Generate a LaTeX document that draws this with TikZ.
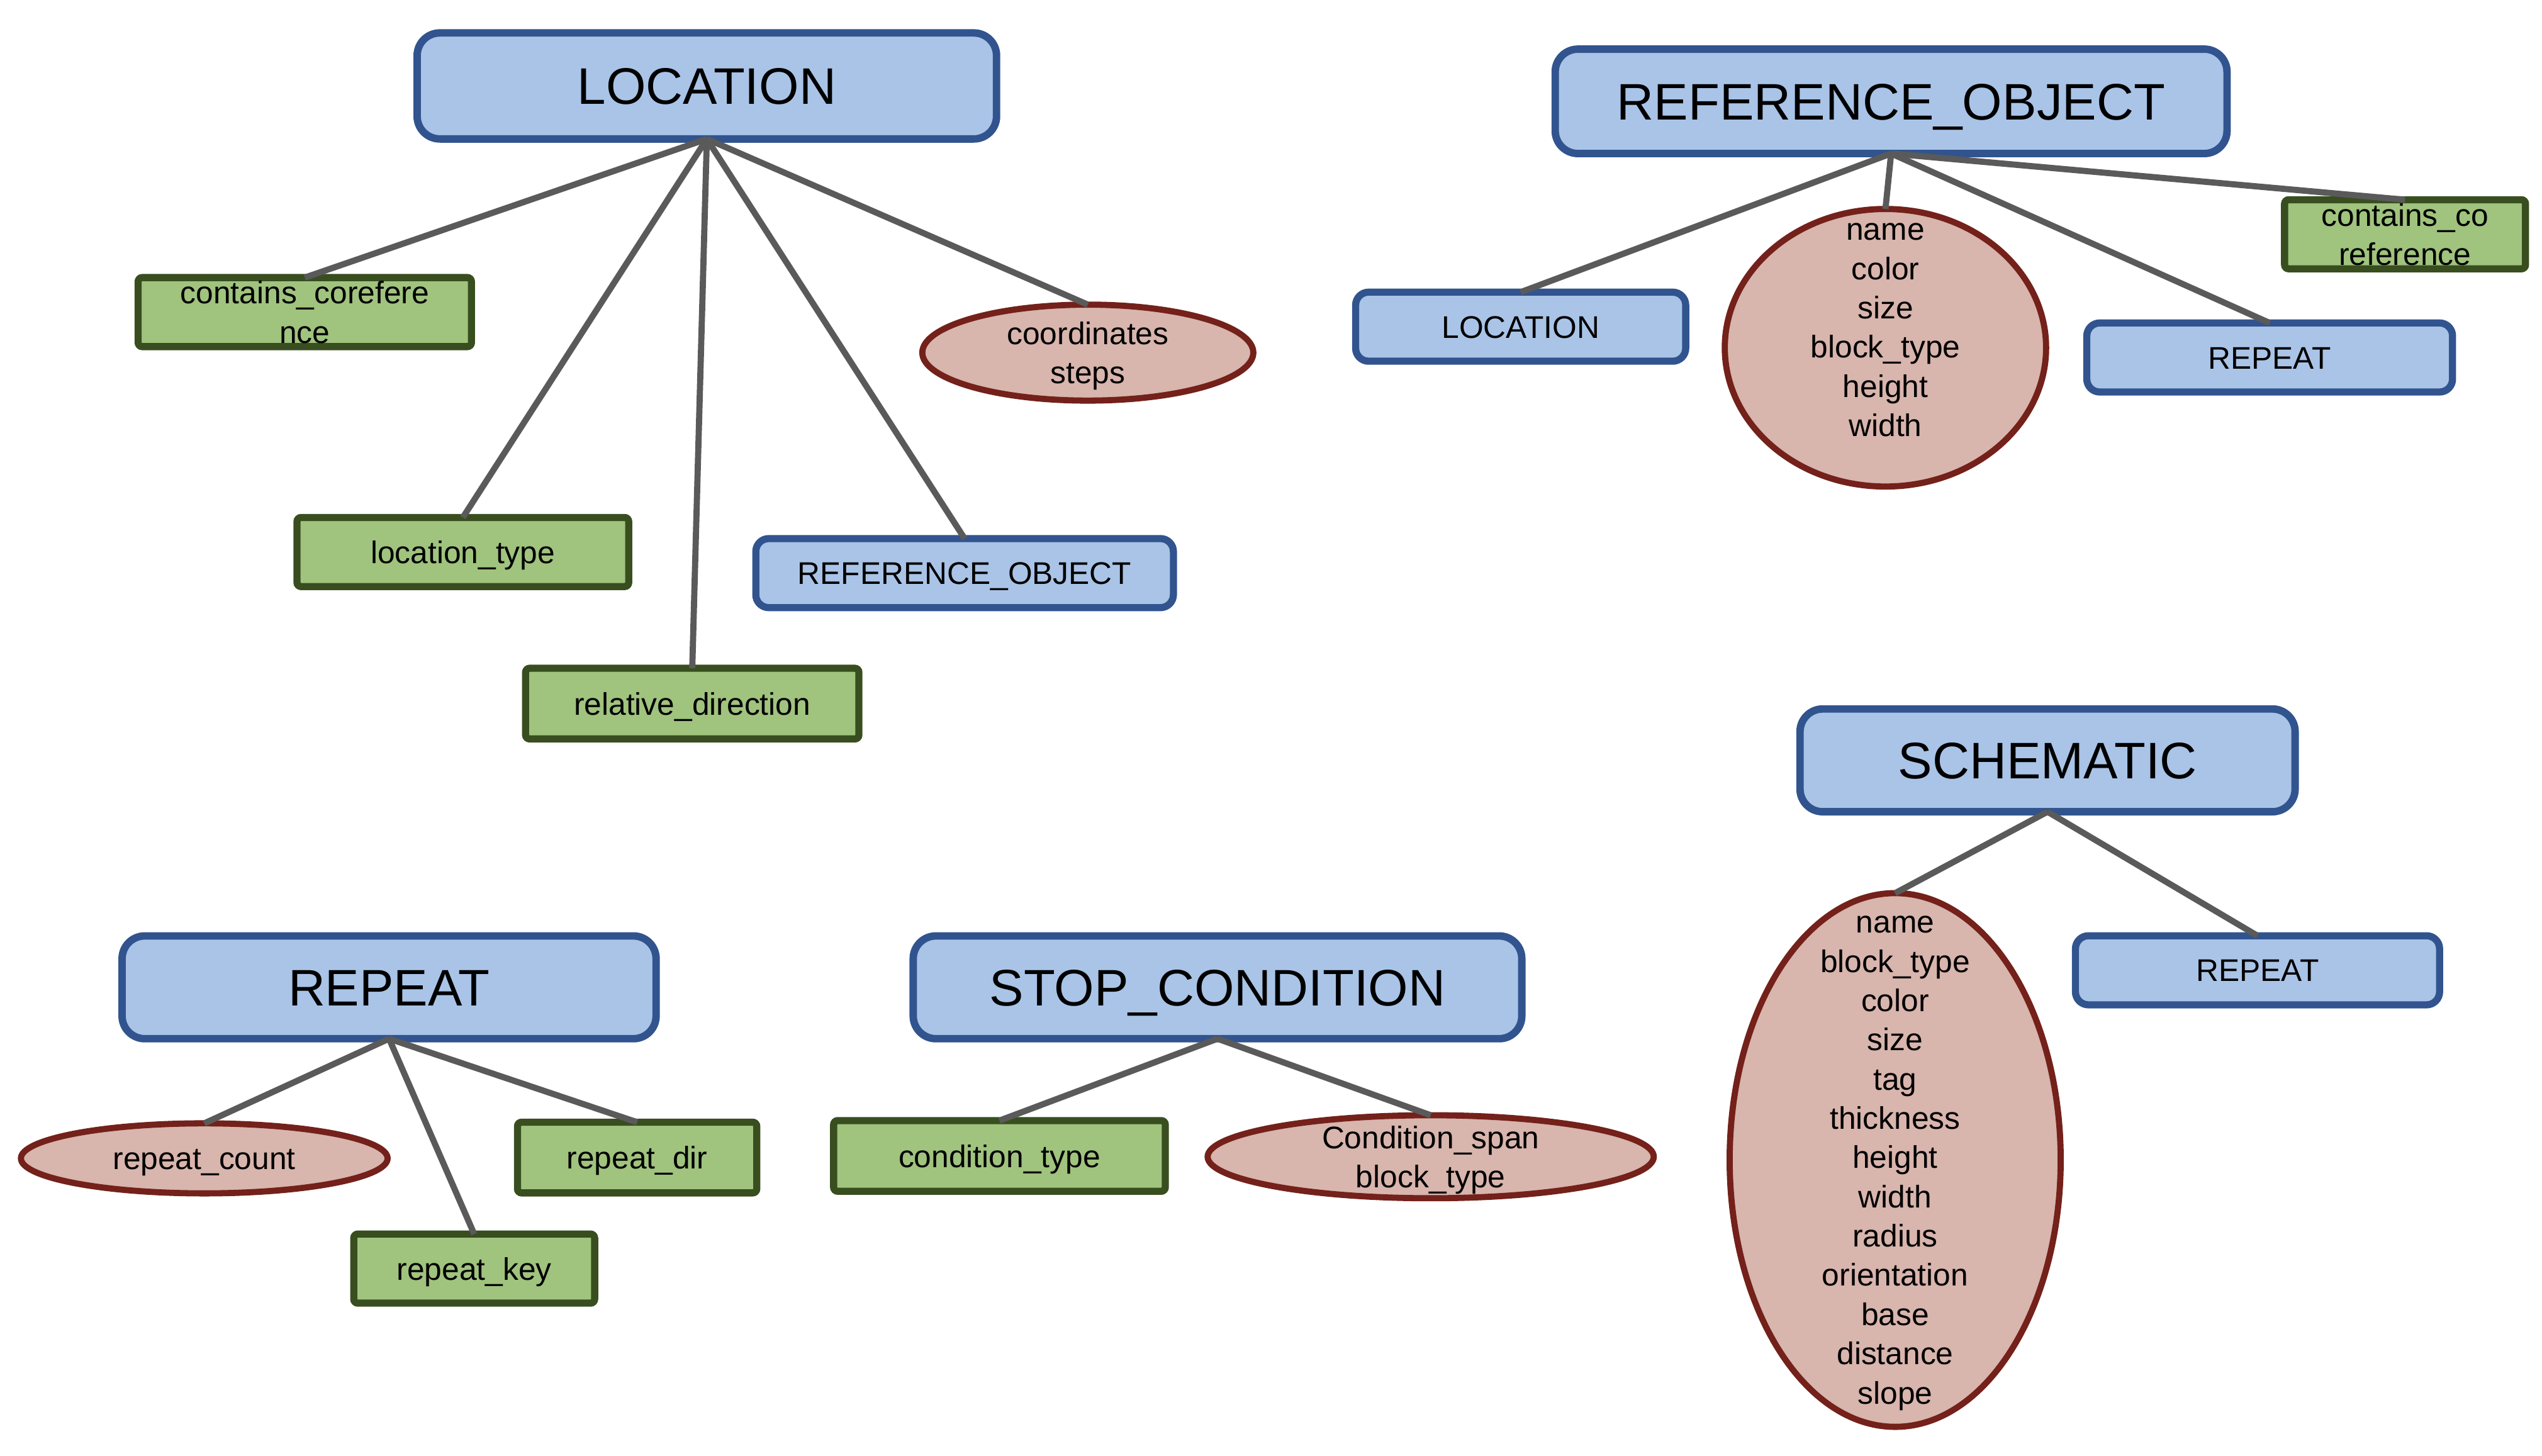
\documentclass[tikz,border=0pt]{standalone}
\usepackage{fontspec}
\setmainfont{Liberation Sans}
\usetikzlibrary{shapes.geometric}
\definecolor{bluefill}{RGB}{169,196,231}
\definecolor{bluebd}{RGB}{49,84,143}
\definecolor{greenfill}{RGB}{160,195,126}
\definecolor{greenbd}{RGB}{56,78,31}
\definecolor{pinkfill}{RGB}{216,181,173}
\definecolor{redbd}{RGB}{115,33,26}
\definecolor{edgegray}{RGB}{90,90,90}
\tikzset{
  base/.style={inner sep=0pt, outer sep=0pt, align=center, text=black,
    font=\fontsize{19.3}{24.2}\selectfont, text depth=0pt,
    execute at begin node={\rule{0pt}{0.72em}}},
  titlebox/.style={base, draw=bluebd, fill=bluefill, line width=4.6pt, rounded corners=14pt,
    font=\fontsize{31.7}{38}\selectfont},
  subbox/.style={base, draw=bluebd, fill=bluefill, line width=4.4pt, rounded corners=8pt},
  grnbox/.style={base, draw=greenbd, fill=greenfill, line width=4.4pt, rounded corners=2.5pt},
  attrell/.style={base, ellipse, draw=redbd, fill=pinkfill, line width=3.8pt},
  lbl/.style={base, draw=none, fill=none},
  conn/.style={draw=edgegray, line width=3.8pt}
}
\begin{document}
\begin{tikzpicture}[x=1pt, y=-1pt]
\useasboundingbox (0,0) rectangle (1568,898);

% LOCATION group
\node[titlebox, minimum width=357.4, minimum height=65.4] (loc) at (436,53) {LOCATION};
\node[grnbox, minimum width=205.6, minimum height=42.6] (loccc) at (188,192.5) {contains\_corefere\\nce};
\node[grnbox, minimum width=204.6, minimum height=42.6] (loctype) at (285.5,340.5) {location\_type};
\node[grnbox, minimum width=205.6, minimum height=43.6] (locdir) at (427,434) {relative\_direction};
\node[subbox, minimum width=257.6, minimum height=42.6] (locref) at (595,353.5) {REFERENCE\_OBJECT};
\node[attrell, minimum width=204.2, minimum height=59.2,
  label={[lbl]center:{coordinates\\steps}}] (loccoord) at (671,217.5) {};

% REFERENCE_OBJECT group
\node[titlebox, minimum width=414.4, minimum height=64.4] (ref) at (1166.5,62.5) {REFERENCE\_OBJECT};
\node[subbox, minimum width=203.6, minimum height=42.6] (refloc) at (938,201.5) {LOCATION};
\node[attrell, minimum width=198.2, minimum height=171.2,
  label={[lbl, yshift=11pt]center:{name\\color\\size\\block\_type\\height\\width}}] (refattr) at (1163,214.5) {};
\node[subbox, minimum width=225.6, minimum height=42.6] (refrep) at (1400,220.5) {REPEAT};
\node[grnbox, minimum width=148.6, minimum height=42.6] (refcc) at (1483.5,144.5) {contains\_co\\reference};

% SCHEMATIC group
\node[titlebox, minimum width=305.4, minimum height=63.4] (sch) at (1263,469) {SCHEMATIC};
\node[attrell, minimum width=204.2, minimum height=329.2,
  label={[lbl]center:{name\\block\_type\\color\\size\\tag\\thickness\\height\\width\\radius\\orientation\\base\\distance\\slope}}] (schattr) at (1169,715.5) {};
\node[subbox, minimum width=224.6, minimum height=42.6] (schrep) at (1392.5,598.5) {REPEAT};

% REPEAT group
\node[titlebox, minimum width=329.4, minimum height=63.4] (rep) at (240,609) {REPEAT};
\node[attrell, minimum width=226.2, minimum height=43.2,
  label={[lbl]center:{repeat\_count}}] (repcount) at (126,714.5) {};
\node[grnbox, minimum width=147.6, minimum height=43.6] (repdir) at (393,714) {repeat\_dir};
\node[grnbox, minimum width=148.6, minimum height=42.6] (repkey) at (292.5,782.5) {repeat\_key};

% STOP_CONDITION group
\node[titlebox, minimum width=375.4, minimum height=63.4] (stop) at (751,609) {STOP\_CONDITION};
\node[grnbox, minimum width=204.6, minimum height=43.6] (stoptype) at (616.5,713) {condition\_type};
\node[attrell, minimum width=275.2, minimum height=51.2,
  label={[lbl]center:{Condition\_span\\block\_type}}] (stopspan) at (882.5,713.5) {};

% connectors
\draw[conn] (loc.south) -- (loccc.north);
\draw[conn] (loc.south) -- (loctype.north);
\draw[conn] (loc.south) -- (locdir.north);
\draw[conn] (loc.south) -- (locref.north);
\draw[conn] (loc.south) -- (loccoord.north);

\draw[conn] (ref.south) -- (refloc.north);
\draw[conn] (ref.south) -- (refattr.north);
\draw[conn] (ref.south) -- (refrep.north);
\draw[conn] (ref.south) -- (refcc.north);

\draw[conn] (sch.south) -- (schattr.north);
\draw[conn] (sch.south) -- (schrep.north);

\draw[conn] (rep.south) -- (repcount.north);
\draw[conn] (rep.south) -- (repkey.north);
\draw[conn] (rep.south) -- (repdir.north);

\draw[conn] (stop.south) -- (stoptype.north);
\draw[conn] (stop.south) -- (stopspan.north);
\end{tikzpicture}
\end{document}
